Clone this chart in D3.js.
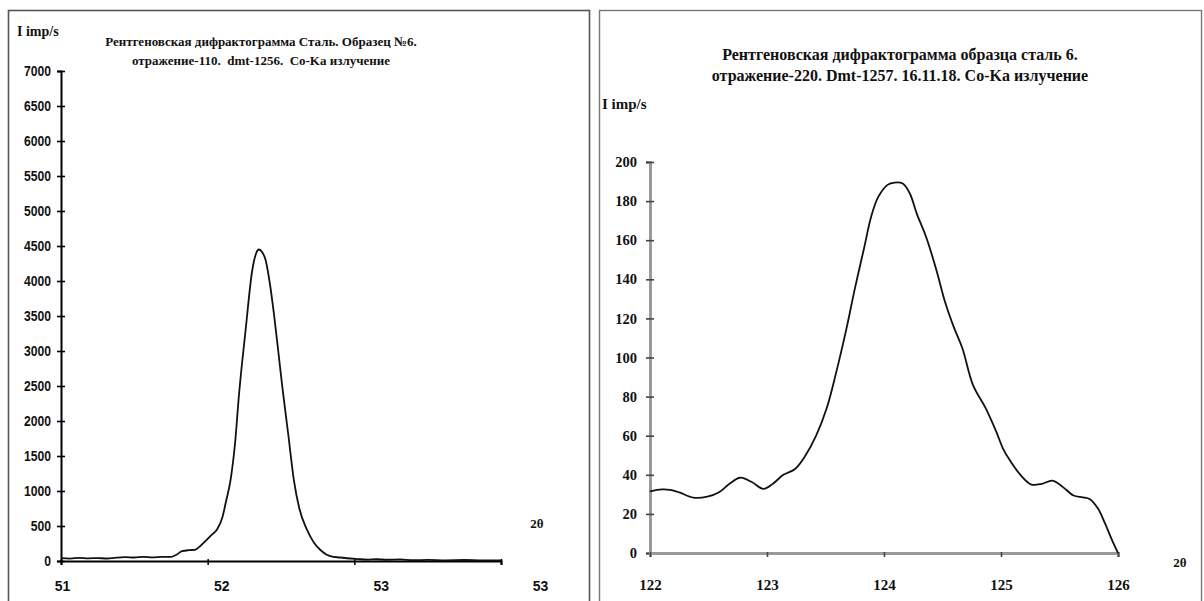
<!DOCTYPE html>
<html>
<head>
<meta charset="utf-8">
<script src="https://cdn.jsdelivr.net/npm/d3@7"></script>
<style>
  html, body { margin: 0; padding: 0; background: #fff; }
  svg { display: block; }
</style>
</head>
<body>
<svg id="chart" width="1204" height="601"></svg>
<script>
// Reflection 110 (left diffractogram): 2θ and intensity, imp/s
const theta110 = [51.00, 51.05, 51.10, 51.15, 51.20, 51.25, 51.30, 51.35, 51.40, 51.45, 51.50, 51.55,
  51.60, 51.63, 51.66, 51.70, 51.73, 51.76, 51.79, 51.82, 51.85, 51.88, 51.90, 51.925, 51.95, 51.97,
  52.007, 52.043, 52.065, 52.079, 52.095, 52.116, 52.14, 52.161, 52.185, 52.207, 52.24, 52.27, 52.30,
  52.343, 52.38, 52.415, 52.45, 52.469, 52.52, 52.56, 52.62, 52.67, 52.72, 52.78, 52.85, 52.92,
  53.00, 53.10, 53.20, 53.30, 53.40];
const intensity110 = [40, 35, 45, 38, 42, 36, 48, 55, 50, 58, 52, 60,
  58, 90, 140, 155, 160, 215, 290, 370, 445, 620, 850, 1160, 1700, 2350,
  3300, 4150, 4400, 4450, 4420, 4300, 3950, 3540, 3000, 2490, 1800, 1160, 750,
  440, 260, 157, 90, 71, 50, 39, 28, 20, 25, 18, 22, 12,
  15, 10, 14, 8, 10];
const yTicks110 = [0, 500, 1000, 1500, 2000, 2500, 3000, 3500, 4000, 4500, 5000, 5500, 6000, 6500, 7000];
const xTicks110 = [51, 51.8, 52.6, 53.4];

// Reflection 220 (right diffractogram)
const theta220 = [122.00, 122.10, 122.17, 122.25, 122.37, 122.49, 122.59, 122.68, 122.77, 122.87, 122.97,
  123.05, 123.14, 123.24, 123.33, 123.42, 123.51, 123.59, 123.68, 123.75, 123.83, 123.89, 123.95,
  124.03, 124.09, 124.16, 124.22, 124.28, 124.36, 124.45, 124.52, 124.60, 124.67, 124.76, 124.87,
  124.96, 125.02, 125.08, 125.17, 125.26, 125.35, 125.44, 125.53, 125.62, 125.70, 125.76, 125.83,
  125.89, 125.95, 126.00];
const intensity220 = [31.5, 32.5, 32.3, 31, 28.3, 28.8, 31.1, 35.4, 38.5, 36.3, 32.8,
  35.4, 40, 43, 50, 60, 74, 92, 115, 135, 156, 172, 182,
  188.3, 189.5, 189, 184, 173.6, 161.6, 144.3, 128.8, 115, 104.7, 86, 74,
  62, 53, 47, 39.7, 35, 35.4, 37, 33.7, 29.4, 28.5, 27.5, 22.6,
  15, 6.5, 0];
const yTicks220 = [0, 20, 40, 60, 80, 100, 120, 140, 160, 180, 200];
const xTicks220 = [122, 123, 124, 125, 126];

const titles110 = ["Рентгеновская дифрактограмма Сталь. Образец №6.",
                   "отражение-110.  dmt-1256.  Co-Ka излучение"];
const titles220 = ["Рентгеновская дифрактограмма образца сталь 6.",
                   "отражение-220. Dmt-1257. 16.11.18. Co-Ka излучение"];
const yTitle = "I imp/s";
const xTitle = "2θ";

const svg = d3.select("#chart");
svg.append("rect").attr("width", 1204).attr("height", 601).attr("fill", "#fff");

const serif = "'Liberation Serif', 'Times New Roman', serif";
const narrow = "'Liberation Sans Narrow', 'Arial Narrow', 'Liberation Sans', sans-serif";
const sans = "'Liberation Sans', Arial, sans-serif";
const intFmt = d3.format("d");

// panel frames
svg.append("rect").attr("x", 8.5).attr("y", 10.5).attr("width", 581).attr("height", 600)
  .attr("fill", "none").attr("stroke", "#555").attr("stroke-width", 1.6);
svg.append("rect").attr("x", 599.5).attr("y", 10.5).attr("width", 602).attr("height", 600)
  .attr("fill", "none").attr("stroke", "#777").attr("stroke-width", 1.4);

function crossTicks(g, len, color) {
  g.selectAll(".tick line").attr("x1", -len).attr("x2", len)
    .attr("stroke", color).attr("stroke-width", 1.6);
}

// ---------- left panel ----------
{
  const x = d3.scaleLinear().domain([51, 53.4]).range([61, 501]);
  const xLab = d3.scaleLinear().domain([51, 53.4]).range([62, 540]);
  const y = d3.scaleLinear().domain([0, 7000]).range([561, 71]);

  const gy = svg.append("g").attr("transform", `translate(${x(51)},0)`)
    .call(d3.axisLeft(y).tickValues(yTicks110).tickSize(4).tickPadding(10).tickFormat(intFmt));
  gy.select(".domain").attr("stroke", "#000").attr("stroke-width", 2);
  crossTicks(gy, 4, "#000");
  gy.selectAll(".tick text").attr("font-family", narrow).attr("font-weight", "bold")
    .attr("font-size", 13.5).attr("fill", "#111").attr("transform", "scale(0.9,1.1)")
    .attr("x", -11).attr("dy", "0.28em");

  const gx = svg.append("g").attr("transform", `translate(0,${y(0)})`)
    .call(d3.axisBottom(x).tickValues(xTicks110).tickSize(4).tickFormat(""));
  gx.select(".domain").attr("stroke", "#000").attr("stroke-width", 2);
  gx.selectAll(".tick line").attr("y1", -2).attr("y2", 4).attr("stroke", "#000").attr("stroke-width", 1.5);

  const gxl = svg.append("g").attr("transform", `translate(0,${y(0)})`)
    .call(d3.axisBottom(xLab).tickValues(xTicks110).tickSize(0).tickPadding(20).tickFormat(d3.format(".0f")));
  gxl.select(".domain").remove();
  gxl.selectAll(".tick text").attr("font-family", sans).attr("font-weight", "bold")
    .attr("font-size", 14).attr("fill", "#111");

  const line = d3.line().x((d, i) => x(theta110[i])).y(d => y(d)).curve(d3.curveMonotoneX);
  svg.append("path").datum(intensity110).attr("d", line)
    .attr("fill", "none").attr("stroke", "#111").attr("stroke-width", 1.8);

  svg.append("g").selectAll("text").data(titles110).join("text")
    .attr("x", 261).attr("y", (d, i) => 46 + i * 19)
    .attr("text-anchor", "middle").attr("font-family", serif).attr("font-weight", "bold")
    .attr("font-size", 13).attr("fill", "#111").attr("xml:space", "preserve").text(d => d);

  svg.append("text").attr("x", 17).attr("y", 36).attr("font-family", serif)
    .attr("font-weight", "bold").attr("font-size", 14).attr("fill", "#111").text(yTitle);
  svg.append("text").attr("x", 537).attr("y", 528).attr("text-anchor", "middle")
    .attr("font-family", serif).attr("font-weight", "bold").attr("font-size", 13)
    .attr("fill", "#111").text(xTitle);
}

// ---------- right panel ----------
{
  const x = d3.scaleLinear().domain([122, 126]).range([650, 1118]);
  const y = d3.scaleLinear().domain([0, 200]).range([553, 162]);

  const gy = svg.append("g").attr("transform", `translate(${x(122)},0)`)
    .call(d3.axisLeft(y).tickValues(yTicks220).tickSize(4).tickPadding(9).tickFormat(intFmt));
  gy.select(".domain").attr("stroke", "#9a9a9a").attr("stroke-width", 3);
  crossTicks(gy, 4, "#444");
  gy.selectAll(".tick text").attr("font-family", serif).attr("font-weight", "bold")
    .attr("font-size", 14.5).attr("fill", "#111");

  const gx = svg.append("g").attr("transform", `translate(0,${y(0)})`)
    .call(d3.axisBottom(x).tickValues(xTicks220).tickSize(4).tickPadding(22).tickFormat(intFmt));
  gx.select(".domain").attr("stroke", "#9a9a9a").attr("stroke-width", 3);
  gx.selectAll(".tick line").attr("y1", -1).attr("y2", 4).attr("stroke", "#444").attr("stroke-width", 1.6);
  gx.selectAll(".tick text").attr("font-family", serif).attr("font-weight", "bold")
    .attr("font-size", 15).attr("fill", "#111");

  const line = d3.line().x((d, i) => x(theta220[i])).y(d => y(d)).curve(d3.curveCatmullRom);
  svg.append("path").datum(intensity220).attr("d", line)
    .attr("fill", "none").attr("stroke", "#111").attr("stroke-width", 1.8);

  svg.append("g").selectAll("text").data(titles220).join("text")
    .attr("x", 900).attr("y", (d, i) => 60 + i * 21)
    .attr("text-anchor", "middle").attr("font-family", serif).attr("font-weight", "bold")
    .attr("font-size", 16).attr("fill", "#111").text(d => d);

  svg.append("text").attr("x", 602).attr("y", 109).attr("font-family", serif)
    .attr("font-weight", "bold").attr("font-size", 15).attr("fill", "#111").text(yTitle);
  svg.append("text").attr("x", 1180).attr("y", 567).attr("text-anchor", "middle")
    .attr("font-family", serif).attr("font-weight", "bold").attr("font-size", 13)
    .attr("fill", "#111").text(xTitle);
}
</script>
</body>
</html>
